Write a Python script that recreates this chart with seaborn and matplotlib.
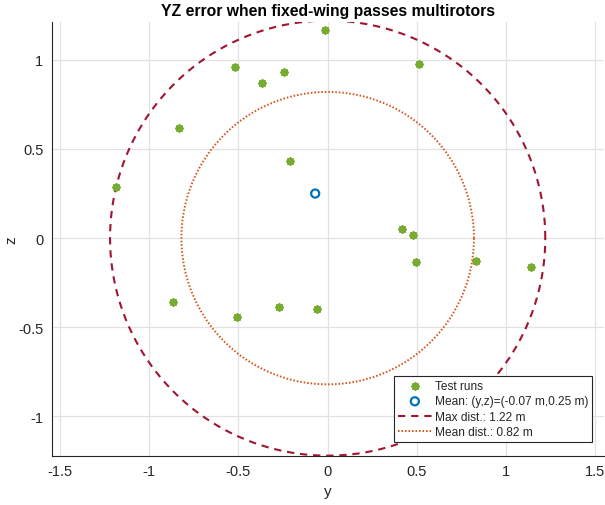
import numpy as np
import pandas as pd
import matplotlib
matplotlib.use("Agg")
import matplotlib.pyplot as plt
import seaborn as sns

# ---- data ----
run_y = [-0.013, 0.513, -0.518, -0.244, -0.367, -0.832, -0.211, -1.185, 0.417,
         0.476, 0.498, 0.829, 1.139, -0.866, -0.507, -0.274, -0.058]
run_z = [1.165, 0.976, 0.957, 0.932, 0.870, 0.620, 0.435, 0.284, 0.050,
         0.017, -0.134, -0.130, -0.160, -0.360, -0.442, -0.384, -0.395]
mean_y = [-0.07]
mean_z = [0.25]
max_dist = 1.22
mean_dist = 0.82
x_ticks = [-1.5, -1, -0.5, 0, 0.5, 1, 1.5]
y_ticks = [-1, -0.5, 0, 0.5, 1]
title = "YZ error when fixed-wing passes multirotors"
legend_labels = ["Test runs", "Mean: (y,z)=(-0.07 m,0.25 m)",
                 "Max dist.: 1.22 m", "Mean dist.: 0.82 m"]

sns.set_theme(style="white")
plt.rcParams['font.family'] = ['Liberation Sans', 'DejaVu Sans']

fig = plt.figure(figsize=(6.05, 5.06), dpi=100)
ax = fig.add_axes([0.0855, 0.0968, 0.9125, 0.8577])

runs = pd.DataFrame({"y": run_y, "z": run_z})
means = pd.DataFrame({"y": mean_y, "z": mean_z})

theta = np.linspace(0, 2 * np.pi, 721)
circ_max = pd.DataFrame({"y": max_dist * np.cos(theta), "z": max_dist * np.sin(theta)})
circ_mean = pd.DataFrame({"y": mean_dist * np.cos(theta), "z": mean_dist * np.sin(theta)})

green = "#77AC30"
blue = "#0072BD"
red = "#A2142F"
orange = "#D95319"

sns.scatterplot(data=runs, x="y", y="z", ax=ax, marker=(8, 2, 0), s=18,
                color=green, edgecolor=green, linewidth=1.9,
                label=legend_labels[0], zorder=4)
sns.scatterplot(data=means, x="y", y="z", ax=ax, marker="o", s=34,
                facecolor="none", edgecolor=blue, linewidth=1.6,
                label=legend_labels[1], zorder=5)
sns.lineplot(data=circ_max, x="y", y="z", ax=ax, sort=False, estimator=None,
             color=red, linewidth=1.5, linestyle=(0, (3.5, 2.8)),
             label=legend_labels[2], zorder=3)
sns.lineplot(data=circ_mean, x="y", y="z", ax=ax, sort=False, estimator=None,
             color=orange, linewidth=1.4, linestyle=(0, (0.8, 1.0)),
             label=legend_labels[3], zorder=3)

ax.set_xlim(-1.547, 1.548)
ax.set_ylim(-1.222, 1.212)
ax.set_xticks(x_ticks)
ax.set_xticklabels([f"{t:g}" for t in x_ticks])
ax.set_yticks(y_ticks)
ax.set_yticklabels([f"{t:g}" for t in y_ticks])

ax.grid(True, color="#e2e2e2", linewidth=0.9)
ax.set_axisbelow(True)
for s in ["top", "right"]:
    ax.spines[s].set_visible(False)
for s in ["left", "bottom"]:
    ax.spines[s].set_color("#262626")
    ax.spines[s].set_linewidth(0.8)
ax.tick_params(direction="in", length=4, width=0.8, colors="#262626",
               labelsize=10.5, labelcolor="#262626", pad=6)

ax.set_xlabel("y", fontsize=11, color="#262626", labelpad=4)
ax.set_ylabel("z", fontsize=11, color="#262626")
ax.yaxis.set_label_coords(-0.060, 0.5)
ax.set_title(title, fontsize=11.3, fontweight="bold", color="#000000", pad=5)

leg = ax.legend(loc="lower right", bbox_to_anchor=(0.978, 0.033),
                fontsize=8.6, frameon=True, fancybox=False, framealpha=1,
                edgecolor="#262626", handlelength=2.9, handletextpad=0.2,
                labelspacing=0.28, borderpad=0.3, borderaxespad=0)
leg.get_frame().set_linewidth(0.8)

fig.savefig("out.png", dpi=100)
